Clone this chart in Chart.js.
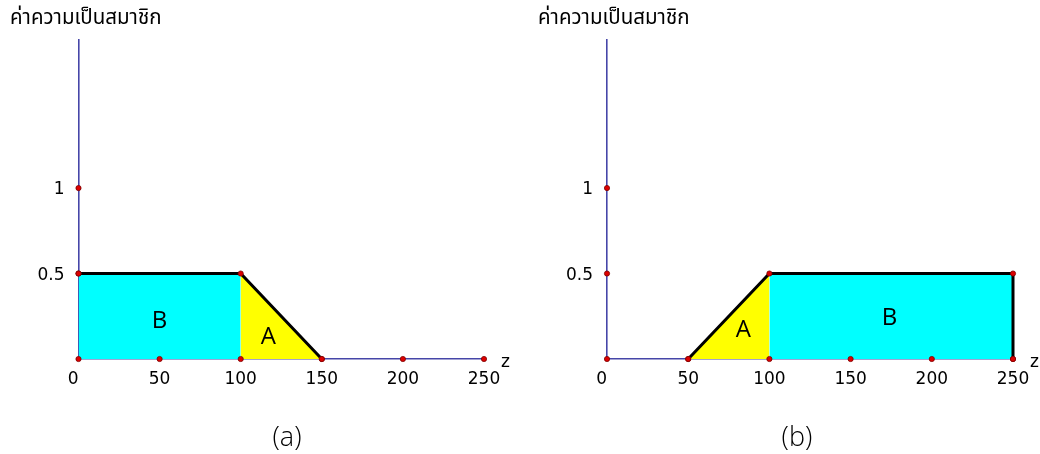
<!DOCTYPE html>
<html>
<head>
<meta charset="utf-8">
<script src="https://cdn.jsdelivr.net/npm/chart.js@4.4.1/dist/chart.umd.min.js"></script>
<style>
  html, body { margin: 0; padding: 0; background: #ffffff; }
  #wrap { position: relative; width: 1040px; height: 454px; overflow: hidden; }
  canvas { position: absolute; top: 0; }
</style>
</head>
<body>
<div id="wrap">
  <canvas id="panelA" width="520" height="454" style="left:0px"></canvas>
  <canvas id="panelB" width="520" height="454" style="left:520px"></canvas>
</div>
<script>
// Axis ticks
const zTicks = [0, 50, 100, 150, 200, 250];
const muTicks = [0, 0.5, 1];

// Panel (a): membership regions as [z, mu] pairs
const aRegionB = [[0, 0.5], [100, 0.5]];
const aRegionA = [[100, 0.5], [150, 0]];
const aOutline = [[0, 0.5], [100, 0.5], [150, 0]];

// Panel (b)
const bRegionA = [[50, 0], [100, 0.5]];
const bRegionB = [[100, 0.5], [250, 0.5]];
const bOutline = [[50, 0], [100, 0.5], [250, 0.5], [250, 0]];

const yTitle = 'ค่าความเป็นสมาชิก';
const CYAN = '#00ffff';
const YELLOW = '#ffff00';
const AXIS = '#4646a8';
const TICK_FONT = '"DejaVu Sans", Verdana, sans-serif';

const toXY = arr => arr.map(p => ({ x: p[0], y: p[1] }));

function panel(canvasId, opts) {
  const dots = zTicks.map(z => ({ x: z, y: 0 }))
    .concat(muTicks.slice(1).map(m => ({ x: 0, y: m })))
    .concat(toXY(opts.outline));

  const textPlugin = {
    id: 'panelText',
    afterDatasetsDraw(chart) {
      const { ctx, scales } = chart;
      ctx.save();
      ctx.fillStyle = '#000000';
      ctx.textAlign = 'center';
      ctx.textBaseline = 'middle';
      ctx.font = '400 24px "Open Sans", "DejaVu Sans", sans-serif';
      opts.letters.forEach(l => {
        ctx.fillText(l.text, scales.x.getPixelForValue(l.x), scales.y.getPixelForValue(l.y));
      });
      ctx.restore();
    },
    afterDraw(chart) {
      const { ctx, scales } = chart;
      ctx.save();
      ctx.fillStyle = '#000000';
      ctx.textBaseline = 'middle';
      // y-axis title
      ctx.textAlign = 'left';
      ctx.font = '20.5px "Noto Sans Thai", "Noto Sans", "DejaVu Sans", sans-serif';
      ctx.fillText(yTitle, opts.titleX, 20);
      // z axis name
      ctx.font = '17px ' + TICK_FONT;
      ctx.fillText('z', scales.x.right + 17, scales.y.bottom + 4);
      // caption
      ctx.textAlign = 'center';
      ctx.font = '300 27px "Open Sans", "DejaVu Sans", sans-serif';
      ctx.fillText(opts.caption, opts.captionX, 438);
      ctx.restore();
    }
  };

  return new Chart(document.getElementById(canvasId), {
    type: 'scatter',
    data: {
      datasets: [
        {
          data: dots, showLine: false, order: 0,
          pointRadius: 2.6, pointBackgroundColor: '#dd0000',
          pointBorderColor: '#7a0000', pointBorderWidth: 0.8, clip: false
        },
        {
          data: toXY(opts.outline), showLine: true, order: 1,
          borderColor: '#000000', borderWidth: 3, pointRadius: 0,
          tension: 0, fill: false, clip: false, borderJoinStyle: 'miter'
        },
        {
          data: toXY(opts.regionA), showLine: true, order: 2,
          borderWidth: 0, pointRadius: 0, fill: 'origin',
          backgroundColor: YELLOW, borderColor: YELLOW, clip: false
        },
        {
          data: toXY(opts.regionB), showLine: true, order: 3,
          borderWidth: 0, pointRadius: 0, fill: 'origin',
          backgroundColor: CYAN, borderColor: CYAN, clip: false
        }
      ]
    },
    options: {
      responsive: false,
      animation: false,
      events: [],
      layout: { padding: { left: 0, top: 40, right: opts.padRight, bottom: 0 } },
      plugins: { legend: { display: false }, tooltip: { enabled: false } },
      scales: {
        x: {
          type: 'linear', min: 0, max: 250,
          grid: { display: false, drawTicks: false },
          border: { display: true, color: AXIS, width: 1.6 },
          afterBuildTicks: s => { s.ticks = zTicks.map(v => ({ value: v })); },
          afterFit: s => { s.height = 95; },
          ticks: {
            padding: 10, color: '#000000', maxRotation: 0, autoSkip: false,
            font: { family: TICK_FONT, size: 17 },
            callback: v => (v === 0 ? '0  ' : String(v))
          }
        },
        y: {
          type: 'linear', min: 0, max: 1.866,
          grid: { display: false, drawTicks: false },
          border: { display: true, color: AXIS, width: 1.6 },
          afterBuildTicks: s => { s.ticks = muTicks.map(v => ({ value: v })); },
          afterFit: s => { s.width = opts.leftWidth; },
          ticks: {
            padding: 14, labelOffset: 2, color: '#000000', autoSkip: false,
            font: { family: TICK_FONT, size: 17 },
            callback: v => (v === 0 ? '' : String(v))
          }
        }
      }
    },
    plugins: [textPlugin]
  });
}

panel('panelA', {
  regionA: aRegionA, regionB: aRegionB, outline: aOutline,
  letters: [{ text: 'B', x: 50, y: 0.22 }, { text: 'A', x: 117, y: 0.125 }],
  caption: '(a)', captionX: 287, titleX: 10,
  padRight: 36, leftWidth: 78.5
});

panel('panelB', {
  regionA: bRegionA, regionB: bRegionB, outline: bOutline,
  letters: [{ text: 'A', x: 84, y: 0.17 }, { text: 'B', x: 174, y: 0.24 }],
  caption: '(b)', captionX: 277, titleX: 18,
  padRight: 27, leftWidth: 87
});
</script>
</body>
</html>
